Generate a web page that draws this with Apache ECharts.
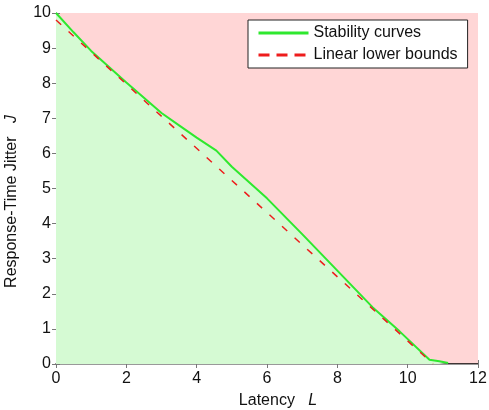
<!DOCTYPE html>
<html>
<head>
<meta charset="utf-8">
<script src="https://cdn.jsdelivr.net/npm/echarts@6/dist/echarts.min.js"></script>
<style>
html,body{margin:0;padding:0;background:#fff;}
#c{width:489px;height:410px;}
</style>
</head>
<body>
<div id="c"></div>
<script>
// Data
var stabilityX = [0, 0.5, 1, 2, 3, 3.5, 4, 4.56, 5, 6, 7, 8, 9, 9.77, 10.62, 10.9, 11.15];
var stabilityY = [10, 9.45, 8.92, 8.02, 7.15, 6.8, 6.45, 6.08, 5.62, 4.72, 3.7, 2.66, 1.62, 0.93, 0.12, 0.08, 0.03];
var boundX = [0, 10.72];
var boundY = [9.8, 0];
var xTicks = [0, 2, 4, 6, 8, 10, 12];
var yTicks = [0, 1, 2, 3, 4, 5, 6, 7, 8, 9, 10];
var seriesNames = ['Stability curves', 'Linear lower bounds'];

function pairs(xs, ys){ return xs.map(function(x,i){ return [x, ys[i]]; }); }

var FONT = 'Liberation Sans, Arial, Helvetica, sans-serif';
var chart = echarts.init(document.getElementById('c'), null, {renderer:'canvas'});
var tickStyle = {show:true, inside:true, length:4, lineStyle:{color:'#777', width:1}};
var hideSym = {opacity:0, color:'transparent', borderWidth:0};
chart.setOption({
  animation:false,
  textStyle:{fontFamily:FONT},
  grid:{left:56, right:11, top:13, bottom:46, show:true, backgroundColor:'#ffd6d6', borderWidth:0,
        containLabel:false, outerBoundsMode:'none'},
  legend:{
    orient:'vertical', left:248, top:20,
    backgroundColor:'#fff', borderColor:'#222', borderWidth:1,
    padding:[5,10,5,9], itemWidth:50, itemHeight:14, itemGap:6,
    textStyle:{fontSize:16, color:'#111', fontFamily:FONT},
    data:[
      {name:seriesNames[0], itemStyle:hideSym, lineStyle:{color:'#2ee82e', width:3, type:'solid'}},
      {name:seriesNames[1], itemStyle:hideSym, lineStyle:{color:'#ee1c1c', width:3, type:[11,7]}}
    ]
  },
  xAxis:[{
    type:'value', min:xTicks[0], max:xTicks[xTicks.length-1], interval:2,
    position:'bottom',
    axisLine:{show:true, onZero:false, lineStyle:{color:'#000', width:1.5}},
    axisTick:tickStyle, splitLine:{show:false},
    axisLabel:{fontSize:16, color:'#111', margin:7, fontFamily:FONT},
    name:'Latency   {i|L}', nameLocation:'middle', nameGap:29,
    nameTextStyle:{fontSize:16, color:'#111', fontFamily:FONT, padding:[0,0,0,22],
      rich:{i:{fontStyle:'italic', fontSize:16, color:'#111', fontFamily:FONT}}}
  },{
    type:'value', min:0, max:12, interval:2, position:'top',
    axisLine:{show:true, lineStyle:{color:'#999', width:1}},
    axisTick:tickStyle, axisLabel:{show:false}, splitLine:{show:false}
  }],
  yAxis:[{
    type:'value', min:yTicks[0], max:yTicks[yTicks.length-1], interval:1,
    position:'left',
    axisLine:{show:true, onZero:false, lineStyle:{color:'#888', width:1}},
    axisTick:tickStyle, splitLine:{show:false},
    axisLabel:{fontSize:16, color:'#111', margin:5, fontFamily:FONT},
    name:'Response-Time Jitter   {i|J}', nameLocation:'middle', nameGap:36,
    nameTextStyle:{fontSize:16, color:'#111', fontFamily:FONT, padding:[0,26,0,0],
      rich:{i:{fontStyle:'italic', fontSize:16, color:'#111', fontFamily:FONT}}}
  },{
    type:'value', min:0, max:10, interval:1, position:'right',
    axisLine:{show:true, lineStyle:{color:'#999', width:1}},
    axisTick:tickStyle, axisLabel:{show:false}, splitLine:{show:false}
  }],
  series:[{
    name:seriesNames[0], type:'line', data:pairs(stabilityX, stabilityY),
    symbol:'none', smooth:false, z:2,
    lineStyle:{color:'#2ee82e', width:2},
    itemStyle:{color:'#2ee82e'},
    areaStyle:{color:'#d5fad3', opacity:1, origin:'start'}
  },{
    name:seriesNames[1], type:'line', data:pairs(boundX, boundY),
    symbol:'none', z:3,
    lineStyle:{color:'#ee1c1c', width:1.5, type:[7,10]},
    itemStyle:{color:'#ee1c1c'}
  }]
});
</script>
</body>
</html>
